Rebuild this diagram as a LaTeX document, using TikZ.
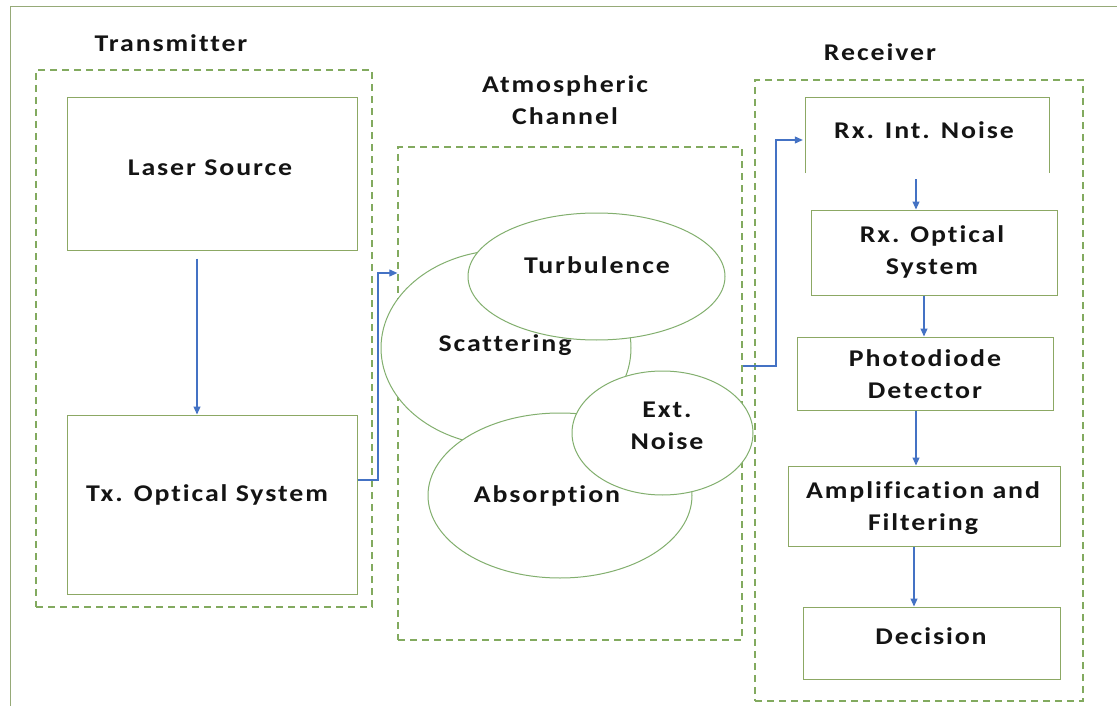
\documentclass[tikz,border=0pt]{standalone}
\usepackage{fontspec}
\setmainfont{Carlito}[LetterSpace=8,FakeStretch=1.16,Ligatures=NoCommon]
\usetikzlibrary{arrows.meta,shapes.geometric,calc}
\definecolor{boxgreen}{RGB}{140,168,100}
\definecolor{dashgreen}{RGB}{130,170,95}
\definecolor{ellgreen}{RGB}{130,175,110}
\definecolor{arrblue}{RGB}{68,114,196}
\definecolor{framegreen}{RGB}{150,170,120}
\definecolor{txtblack}{RGB}{20,20,20}
\begin{document}
\begin{tikzpicture}[x=1pt,y=-1pt,
  font=\fontsize{24}{32}\selectfont\bfseries,
  box/.style={draw=boxgreen,line width=1pt,align=center,inner sep=0pt},
  grp/.style={draw=dashgreen,line width=1.3pt,dash pattern=on 7pt off 5pt,inner sep=0pt},
  ell/.style={ellipse,draw=ellgreen,line width=1pt,fill=white,inner sep=0pt},
  lbl/.style={align=center,inner sep=0pt,text=txtblack},
  conn/.style={draw=arrblue,line width=1.1pt,-{Triangle[length=8pt,width=7pt]}}]
\useasboundingbox (0,0) rectangle (1117,706);
% outer frame
\draw[framegreen,line width=1pt] (10,706) -- (10,7) -- (1117,7);
% group boxes
\node[grp,minimum width=336,minimum height=537] (txg) at (204,338.5) {};
\node[grp,minimum width=344,minimum height=493] (chan) at (570,393.5) {};
\node[grp,minimum width=328,minimum height=621] (rxg) at (919,390.5) {};
\node[lbl] (txt) at (171,43) {Transmitter};
\node[lbl] (cht) at (565,100) {Atmospheric\\Channel};
\node[lbl] (rxt) at (880,52) {Receiver};
% transmitter boxes
\node[box,minimum width=290,minimum height=152] (laser) at (212,174) {};
\node[lbl] (lasert) at (210,168) {Laser Source};
\node[box,minimum width=290,minimum height=179] (tx) at (212,504.5) {};
\node[lbl] (txt2) at (207,495) {Tx. Optical System};
% ellipses
\node[ell,minimum width=250,minimum height=196] (scat) at (506,348) {};
\node[ell,minimum width=257,minimum height=127] (turb) at (596.5,276.5) {};
\node[ell,minimum width=264,minimum height=165] (abs) at (560,495.5) {};
\node[ell,minimum width=181,minimum height=124] (ext) at (662.5,433) {};
\node[lbl] (scatt) at (505,345) {Scattering};
\node[lbl] (turbt) at (597,265) {Turbulence};
\node[lbl] (abst) at (547,496) {Absorption};
\node[lbl] (extt) at (667,426) {Ext.\\Noise};
% receiver boxes
\node[inner sep=0pt,minimum width=243,minimum height=75] (rxn) at (927.5,135.5) {};
\draw[boxgreen,line width=1pt] (rxn.south west) -- (rxn.north west) -- (rxn.north east) -- (rxn.south east);
\node[lbl] (rxnt) at (924,130) {Rx. Int. Noise};
\node[box,minimum width=246,minimum height=85] (rxo) at (934,252.5) {};
\node[lbl] (rxot) at (932,252) {Rx. Optical\\System};
\node[box,minimum width=256,minimum height=73] (pd) at (925,373.5) {};
\node[lbl] (pdt) at (925,374) {Photodiode\\Detector};
\node[box,minimum width=272,minimum height=80] (amp) at (924,506) {};
\node[lbl] (ampt) at (923,508) {Amplification and\\Filtering};
\node[box,minimum width=257,minimum height=72] (dec) at (931.5,643) {};
\node[lbl] (dect) at (931,636) {Decision};
% connectors
\draw[conn] (laser.south -| 197,0) ++(0,8) -- (tx.north -| 197,0);
\coordinate (c1) at (378,480);
\coordinate (c2) at (378,273);
\draw[conn] (tx.east |- c1) -- (c1) -- (c2) -- (chan.west |- c2);
\coordinate (c3) at (776,366);
\coordinate (c4) at (776,140);
\draw[conn] (chan.east |- c3) -- (c3) -- (c4) -- ($(rxn.west |- c4)+(-3,0)$);
\draw[conn] ($(rxn.south -| 916,0)+(0,6)$) -- (rxo.north -| 916,0);
\draw[conn] (rxo.south -| 924,0) -- (pd.north -| 924,0);
\draw[conn] (pd.south -| 916,0) -- (amp.north -| 916,0);
\draw[conn] (amp.south -| 914,0) -- (dec.north -| 914,0);
\end{tikzpicture}
\end{document}
